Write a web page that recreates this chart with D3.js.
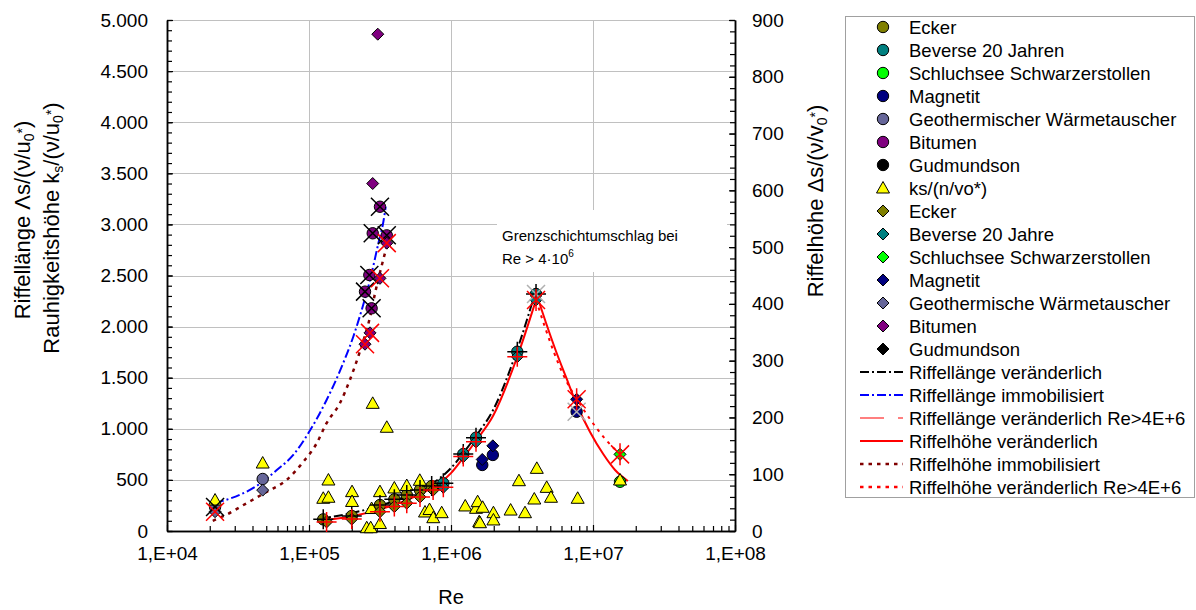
<!DOCTYPE html>
<html><head><meta charset="utf-8">
<script src="https://cdn.jsdelivr.net/npm/d3@7"></script>
<style>
body{margin:0;background:#fff}
svg{display:block;font-family:"Liberation Sans",Arial,sans-serif}
</style>
</head><body>
<svg id="c" width="1196" height="610"></svg>
<script>
// ---------------- DATA ----------------
// circles: Riffellänge (left axis), [Re, value]
const eckerLaenge      = [[1.26e5,114],[2.0e5,147],[3.16e5,254],[3.99e5,310],[4.88e5,352],[6.05e5,401],[7.31e5,440]];
const beverseLaenge    = [[8.83e5,467],[1.22e6,753],[1.50e6,913],[2.93e6,1754],[3.97e6,2319]];
const schluchseeLaenge = [[1.55e7,482]];
const magnetitLaenge   = [[1.66e6,646],[1.97e6,744],[7.67e6,1167]];
const geoLaenge        = [[2.18e4,235],[4.72e4,509]];
const bitumenLaenge    = [[2.48e5,2342],[2.66e5,2505],[2.76e5,2179],[2.81e5,2913],[3.16e5,3173],[3.53e5,2893]];
const gudmundsonLaenge = [];
// triangles: ks/(n/vo*) (left axis)
const ksValues = [[2.18e4,303],[4.72e4,665],[1.26e5,320],[1.37e5,330],[1.37e5,499],[2.01e5,385],[2.01e5,289],
  [2.55e5,32],[2.72e5,32],[2.81e5,1249],[2.76e5,220],[3.16e5,385],[3.16e5,73],[3.53e5,1015],[3.99e5,421],
  [4.88e5,445],[6.03e5,496],[6.56e5,186],[7.06e5,210],[7.50e5,130],[8.60e5,179],[1.26e6,245],[1.50e6,222],
  [1.54e6,287],[1.67e6,232],[1.58e6,91],[1.60e6,81],[1.99e6,179],[1.99e6,108],[2.63e6,205],[3.01e6,492],
  [3.32e6,179],[3.86e6,313],[4.02e6,613],[4.72e6,427],[5.06e6,330],[7.80e6,320],[1.55e7,499]];
// diamonds: Riffelhöhe (right axis)
const eckerHoehe      = [[1.33e5,16],[2.0e5,21],[3.16e5,34],[3.99e5,43],[4.88e5,49],[6.05e5,60],[7.48e5,72]];
const beverseHoehe    = [[8.83e5,77],[1.22e6,131],[1.50e6,157],[2.93e6,307],[3.97e6,407]];
const schluchseeHoehe = [[1.55e7,135]];
const magnetitHoehe   = [[1.66e6,126],[1.97e6,150],[7.67e6,232]];
const geoHoehe        = [[2.18e4,34],[4.72e4,72]];
const bitumenHoehe    = [[2.48e5,329],[2.69e5,349],[2.81e5,612],[3.05e5,875],[3.16e5,445],[3.53e5,507]];
const gudmundsonHoehe = [];
// fitted curves
const laengeVeraenderlich = [[1.14e5,117],[2.01e5,176],[3.97e5,294],[6.05e5,401],[8.38e5,519],[1.0e6,616],[1.22e6,763],[1.50e6,930],[1.98e6,1184],[2.92e6,1771],[3.97e6,2358]];
const laengeImmobil       = [[2.18e4,271],[4.72e4,482],[5.93e4,597],[7.75e4,744],[9.88e4,956],[1.33e5,1282],[1.70e5,1608],[2.05e5,1901],[2.35e5,2162],[2.69e5,2456],[3.08e5,2815],[3.34e5,3026],[3.47e5,3173]];
const laengeHighRe        = [[3.97e6,2329],[4.67e6,2035],[5.48e6,1761],[6.45e6,1507],[7.71e6,1233],[9.53e6,969],[1.18e7,753],[1.43e7,597],[1.76e7,489]];
const hoeheVeraenderlich  = [[1.14e5,18],[2.01e5,26],[3.97e5,46],[6.05e5,65],[8.38e5,85],[1.0e6,102],[1.22e6,129],[1.50e6,159],[1.98e6,203],[2.92e6,306],[3.97e6,407]];
const hoeheImmobil        = [[2.1e4,18],[2.49e4,26],[3.64e4,49],[5.04e4,69],[6.96e4,90],[9.13e4,122],[1.13e5,154],[1.33e5,190],[1.65e5,225],[1.94e5,266],[2.26e5,313],[2.69e5,377],[2.92e5,419],[3.5e5,498]];
const hoeheHighRe         = [[3.97e6,407],[4.59e6,359],[5.23e6,319],[6.05e6,280],[6.89e6,252],[7.71e6,232],[9.53e6,197],[1.24e7,160],[1.55e7,135]];
// curve markers
const laengeVarMarks  = [[1.26e5,114],[2.0e5,147],[3.16e5,254],[3.99e5,310],[4.88e5,352],[6.05e5,401],[7.31e5,440],[8.83e5,467],[1.22e6,753],[1.50e6,913],[2.93e6,1754],[3.97e6,2319]];
const hoeheVarMarks   = [[1.33e5,16],[2.0e5,21],[3.16e5,34],[3.99e5,43],[4.88e5,49],[6.05e5,60],[7.48e5,72],[8.83e5,77],[1.22e6,131],[1.50e6,157],[2.93e6,307]];
const laengeImmMarks  = [[2.18e4,235],[2.48e5,2342],[2.66e5,2505],[2.76e5,2179],[2.81e5,2913],[3.16e5,3173],[3.53e5,2893]];
const hoeheImmMarks   = [[2.18e4,34],[2.48e5,329],[2.69e5,349],[3.16e5,445],[3.53e5,507]];
const laengeHighMarks = [[3.97e6,2319],[7.67e6,1167]];
const hoeheHighMarks  = [[3.97e6,407],[7.67e6,232],[1.55e7,135]];
// ticks & labels
const xTicks = [1e4,1e5,1e6,1e7,1e8];
const leftTicks = [0,500,1000,1500,2000,2500,3000,3500,4000,4500,5000];
const rightTicks = [0,100,200,300,400,500,600,700,800,900];
const circleNames  = ["Ecker","Beverse 20 Jahren","Schluchsee Schwarzerstollen","Magnetit","Geothermischer Wärmetauscher","Bitumen","Gudmundson"];
const triangleName = "ks/(n/vo*)";
const diamondNames = ["Ecker","Beverse 20 Jahre","Schluchsee Schwarzerstollen","Magnetit","Geothermische Wärmetauscher","Bitumen","Gudmundson"];
const lineNames = ["Riffellänge veränderlich","Riffellänge immobilisiert","Riffellänge veränderlich Re>4E+6","Riffelhöhe veränderlich","Riffelhöhe immobilisiert","Riffelhöhe veränderlich Re>4E+6"];

// ---------------- STYLE ----------------
const seriesColors = ["#808000","#008080","#00ff00","#000080","#666699","#800080","#000000"];
const lineStyles = [
  {stroke:"#000000", width:2, dash:"9,3,2,3", plotDash:"9,3,2,3"},
  {stroke:"#0000ff", width:2, dash:"9,3,2,3", plotDash:"9,3,2,3"},
  {stroke:"#ff0000", width:1.2, dash:"24,14", plotDash:null, plotWidth:2},
  {stroke:"#ff0000", width:2, dash:null, plotDash:null},
  {stroke:"#800000", width:2.5, dash:"3.5,5", plotDash:"3.5,5"},
  {stroke:"#ff0000", width:2.5, dash:"3.5,5", plotDash:"3,5", plotWidth:2}
];
const L=167,R=735,T=20,B=531;
const svg=d3.select("#c");
const x=d3.scaleLog().domain([1e4,1e8]).range([L,R]);
const yL=d3.scaleLinear().domain([0,5000]).range([B,T]);
const yR=d3.scaleLinear().domain([0,900]).range([B,T]);
const de=d3.formatLocale({decimal:",",thousands:".",grouping:[3],currency:["",""]});
const fmtL=de.format(",");

// grid
const grid=svg.append("g").attr("stroke","#c0c0c0").attr("stroke-width",1);
grid.selectAll("line.h").data(leftTicks.slice(1)).join("line").attr("class","h")
  .attr("x1",L).attr("x2",R).attr("y1",d=>Math.round(yL(d))+0.5).attr("y2",d=>Math.round(yL(d))+0.5);
grid.selectAll("line.v").data(xTicks.slice(1,4)).join("line").attr("class","v")
  .attr("y1",T).attr("y2",B).attr("x1",d=>Math.round(x(d))+0.5).attr("x2",d=>Math.round(x(d))+0.5);

// annotation box
svg.append("rect").attr("x",497).attr("y",210).attr("width",230).attr("height",62).attr("fill","#fff");
const ann=svg.append("text").attr("font-size",15).attr("fill","#000");
ann.append("tspan").attr("x",502).attr("y",241).text("Grenzschichtumschlag bei");
ann.append("tspan").attr("x",502).attr("y",264).text("Re > 4·10");
ann.append("tspan").attr("dy",-7).attr("font-size",10).text("6");

// axes
const minorX=[];
for(let k=4;k<8;k++) for(let m=2;m<10;m++) minorX.push(m*Math.pow(10,k));
function styleAxis(g){g.select(".domain").attr("stroke","#000").attr("stroke-width",1.5);g.selectAll(".tick line").attr("stroke","#000").attr("stroke-width",1.2);g.selectAll("text").attr("font-size",19).attr("fill","#000").attr("font-family",null);}
svg.append("g").attr("transform",`translate(0,${B})`)
  .call(d3.axisBottom(x).tickValues(minorX).tickFormat("").tickSizeInner(-5).tickSizeOuter(0)).call(styleAxis);
svg.append("g").attr("transform",`translate(0,${B})`)
  .call(d3.axisBottom(x).tickValues(xTicks).tickFormat(d=>"1,E+"+String(Math.round(Math.log10(d))).padStart(2,"0")).tickSizeInner(-6).tickSizeOuter(0).tickPadding(16)).call(styleAxis);
svg.append("g").attr("transform",`translate(${L},0)`)
  .call(d3.axisLeft(yL).tickValues(d3.range(0,5001,100)).tickFormat("").tickSizeInner(-5).tickSizeOuter(0)).call(styleAxis);
svg.append("g").attr("transform",`translate(${L},0)`)
  .call(d3.axisLeft(yL).tickValues(leftTicks).tickFormat(fmtL).tickSizeInner(-6).tickSizeOuter(0).tickPadding(19)).call(styleAxis);
svg.append("g").attr("transform",`translate(${R},0)`)
  .call(d3.axisRight(yR).tickValues(d3.range(0,901,20)).tickFormat("").tickSizeInner(-5).tickSizeOuter(0)).call(styleAxis);
svg.append("g").attr("transform",`translate(${R},0)`)
  .call(d3.axisRight(yR).tickValues(rightTicks).tickFormat(d3.format("d")).tickSizeInner(-6).tickSizeOuter(0).tickPadding(17)).call(styleAxis);

// titles
svg.append("text").attr("x",451).attr("y",604).attr("text-anchor","middle").attr("font-size",20).text("Re");
function title(xc,yc,parts){
  const t=svg.append("text").attr("transform",`translate(${xc},${yc}) rotate(-90)`).attr("text-anchor","middle").attr("font-size",22);
  parts.forEach(p=>{const s=t.append("tspan").text(p[0]); if(p[1]!=null) s.attr("dy",p[1]); if(p[2]) s.attr("font-size",p[2]);});
}
title(30,220,[["Riffellänge Λs/(ν/u"],["0",4,14],["*",-7,14],[")",3]]);
title(59,228,[["Rauhigkeitshöhe k"],["s",4,14],["/(ν/u",-4],["0",4,14],["*",-7,14],[")",3]]);
title(823,201,[["Riffelhöhe Δs/(ν/v"],["0",4,14],["*",-7,14],[")",3]]);

// curves
const curveData=[laengeVeraenderlich,laengeImmobil,laengeHighRe,hoeheVeraenderlich,hoeheImmobil,hoeheHighRe];
const curveAxis=[yL,yL,yL,yR,yR,yR];
curveData.forEach((d,i)=>{
  const st=lineStyles[i];
  const ln=d3.line().x(p=>x(p[0])).y(p=>curveAxis[i](p[1])).curve(d3.curveMonotoneX);
  svg.append("path").datum(d).attr("d",ln).attr("fill","none").attr("stroke",st.stroke)
    .attr("stroke-width",st.plotWidth||st.width).attr("stroke-dasharray",st.plotDash);
});

// marker shapes
const circleP="M5.7,0A5.7,5.7 0 1,1 -5.7,0A5.7,5.7 0 1,1 5.7,0Z";
const diamondP="M0,-6L6,0L0,6L-6,0Z";
const triP="M0,-6.5L6.5,5L-6.5,5Z";
const xP="M-9,-9L9,9M-9,9L9,-9";
const plusP="M-10,0L10,0M0,-10L0,10";
const starP="M-9,-9L9,9M-9,9L9,-9M0,-11L0,11";

const circleSets=[eckerLaenge,beverseLaenge,schluchseeLaenge,magnetitLaenge,geoLaenge,bitumenLaenge,gudmundsonLaenge];
const diamondSets=[eckerHoehe,beverseHoehe,schluchseeHoehe,magnetitHoehe,geoHoehe,bitumenHoehe,gudmundsonHoehe];
function pts(data,yS,path,fill,stroke,sw){
  svg.append("g").selectAll("path").data(data).join("path")
    .attr("transform",d=>`translate(${x(d[0])},${yS(d[1])})`).attr("d",path)
    .attr("fill",fill).attr("stroke",stroke).attr("stroke-width",sw);
}
circleSets.forEach((d,i)=>pts(d,yL,circleP,seriesColors[i],"#000",1));
pts(ksValues,yL,triP,"#ffff00","#000",1);
diamondSets.forEach((d,i)=>pts(d,yR,diamondP,seriesColors[i],"#000",1));
pts(laengeVarMarks,yL,plusP,"none","#000",1.5);
pts(laengeImmMarks,yL,xP,"none","#000",1.5);
pts(laengeHighMarks,yL,xP,"none","#b0b0b0",1.5);
pts(hoeheVarMarks,yR,plusP,"none","#ff0000",1.5);
pts(hoeheImmMarks,yR,xP,"none","#ff0000",1.5);
pts(hoeheHighMarks,yR,starP,"none","#ff0000",1.5);

// legend
const lg=svg.append("g");
lg.append("rect").attr("x",845.5).attr("y",16.5).attr("width",349).attr("height",481).attr("fill","#fff").attr("stroke","#a0a0a0");
const rowY=i=>27+i*23;
const lgItems=[];
circleNames.forEach((n,i)=>lgItems.push({n,kind:"m",path:circleP,fill:seriesColors[i]}));
lgItems.push({n:triangleName,kind:"m",path:triP,fill:"#ffff00"});
diamondNames.forEach((n,i)=>lgItems.push({n,kind:"m",path:diamondP,fill:seriesColors[i]}));
lineNames.forEach((n,i)=>lgItems.push({n,kind:"l",st:lineStyles[i]}));
lgItems.forEach((it,i)=>{
  const y=rowY(i);
  if(it.kind==="m"){
    lg.append("path").attr("transform",`translate(883,${y})`).attr("d",it.path).attr("fill",it.fill).attr("stroke","#000").attr("stroke-width",1);
  } else {
    lg.append("line").attr("x1",860).attr("x2",903).attr("y1",y).attr("y2",y).attr("stroke",it.st.stroke)
      .attr("stroke-width",it.st.width).attr("stroke-dasharray",it.st.dash);
  }
  lg.append("text").attr("x",909).attr("y",y).attr("dy","0.36em").attr("font-size",18.5).text(it.n);
});
</script>
</body></html>
